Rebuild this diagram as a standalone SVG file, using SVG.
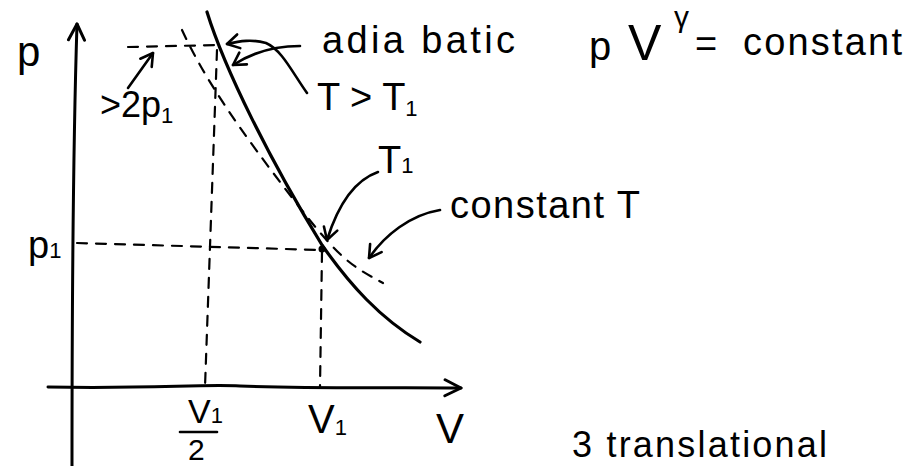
<svg xmlns="http://www.w3.org/2000/svg" width="911" height="466" viewBox="0 0 911 466">
<style>
.ln{fill:none;stroke:#000;stroke-linecap:round;stroke-linejoin:round}
.ax{stroke-width:3}
.cv{stroke-width:3.2}
.ds{stroke-width:2.2;stroke-dasharray:10 9}
.ar{stroke-width:2.6}
text{font-family:"Liberation Sans","DejaVu Sans",sans-serif;fill:#000}
.t38{font-size:38px}
.sub{font-size:22px}
</style>
<defs>
<marker id="ah" markerUnits="userSpaceOnUse" markerWidth="20" markerHeight="20" refX="14" refY="8" orient="auto" viewBox="0 0 20 16">
<path d="M2,1 L14,8 L2,15" fill="none" stroke="#000" stroke-width="2.6" stroke-linecap="round" stroke-linejoin="round"/>
</marker>
<marker id="axh" markerUnits="userSpaceOnUse" markerWidth="24" markerHeight="24" refX="18" refY="10" orient="auto" viewBox="0 0 24 20">
<path d="M2,2 L18,10 L2,18" fill="none" stroke="#000" stroke-width="3" stroke-linecap="round" stroke-linejoin="round"/>
</marker>
</defs>
<rect width="911" height="466" fill="#fff"/>

<g id="axes">
<path class="ln ax" d="M72,466 C72,350 73,150 77,24" marker-end="url(#axh)"/>
<path class="ln ax" d="M48,387 C150,389 200,384 240,386 C320,389 400,387 461,388" marker-end="url(#axh)"/>
</g>

<g id="guides">
<path class="ln ds" d="M128,47 L220,45"/>
<path class="ln ds" d="M217,50 L205,387"/>
<path class="ln ds" d="M77,243 L320,250"/>
<path class="ln ds" d="M322,252 L320,387"/>
</g>

<g id="isotherm">
<path class="ln ds" d="M182,30 C205,80 240,130 290,195 S350,265 383,283"/>
</g>

<g id="adiabat">
<path class="ln cv" d="M207,12 C225,70 270,160 322,245 C350,285 380,318 420,342"/>
</g>

<g id="point-p1V1">
<circle cx="322" cy="249" r="3.5" fill="#000"/>
</g>

<g id="connectors">
<path class="ln ar" d="M128,88 L153,53" marker-end="url(#ah)"/>
<path class="ln ar" d="M300,46 C272,46 250,54 233,65" marker-end="url(#ah)"/>
<path class="ln ar" d="M307,93 C292,72 282,50 266,43 C252,39 240,41 227,44" marker-end="url(#ah)"/>
<path class="ln ar" d="M378,172 C355,180 338,205 327,240" marker-end="url(#ah)"/>
<path class="ln ar" d="M440,210 C410,215 385,235 369,258" marker-end="url(#ah)"/>
</g>

<g id="label-p"><text x="17" y="66" font-size="42">p</text></g>
<g id="label-2p1"><text x="100" y="117" font-size="36">&gt;2p<tspan class="sub" dy="6">1</tspan></text></g>
<g id="label-adiabatic"><text class="t38" x="322" y="53" textLength="193" lengthAdjust="spacing">adia batic</text></g>
<g id="label-TgtT1"><text class="t38" x="317" y="110">T &gt; T<tspan class="sub" dy="6">1</tspan></text></g>
<g id="label-pVgamma">
<text x="589" y="60" font-size="40">p</text>
<text x="628" y="60" font-size="50">V</text>
<text x="674" y="27" font-size="30">γ</text>
<text x="695" y="57" font-size="38">=</text>
<text class="t38" x="743" y="55" textLength="159" lengthAdjust="spacing">constant</text>
</g>
<g id="label-T1"><text class="t38" x="378" y="173">T<tspan class="sub">1</tspan></text></g>
<g id="label-constantT"><text class="t38" x="450" y="218" textLength="190" lengthAdjust="spacing">constant T</text></g>
<g id="label-p1"><text class="t38" x="28" y="258">p<tspan class="sub">1</tspan></text></g>
<g id="label-V1half">
<text x="188" y="423" font-size="34">V<tspan class="sub">1</tspan></text>
<path class="ln" stroke-width="2.6" d="M180,432 L217,432"/>
<text x="188" y="460" font-size="30">2</text>
</g>
<g id="label-V1"><text x="308" y="433" font-size="40">V<tspan class="sub" dy="2">1</tspan></text></g>
<g id="label-V"><text x="436" y="443" font-size="42">V</text></g>
<g id="label-translational"><text x="572" y="457" font-size="36" textLength="255" lengthAdjust="spacing">3 translational</text></g>
</svg>
